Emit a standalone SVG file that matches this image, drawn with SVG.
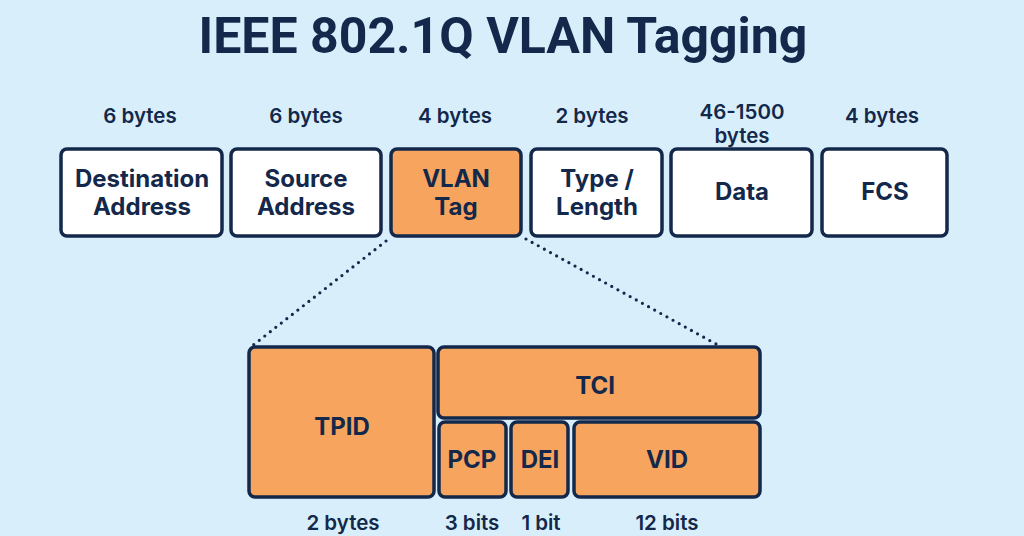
<svg xmlns="http://www.w3.org/2000/svg" width="1024" height="536" viewBox="0 0 1024 536">
<style>
.box{fill:#ffffff;stroke:#13284a;stroke-width:3.5}
.tag{fill:#f7a45e;stroke:#13284a;stroke-width:3.5}
.lbl{font-family:Inter,"Noto Sans",sans-serif;font-weight:700;font-size:24px;fill:#13284a;text-anchor:middle}
.sz{font-family:Inter,"Noto Sans",sans-serif;font-weight:600;font-size:20.5px;fill:#13284a;text-anchor:middle}
.dot{fill:none;stroke:#13284a;stroke-width:3.2;stroke-linecap:round;stroke-dasharray:0 7}
</style>
<rect width="1024" height="536" fill="#d8effb"/>
<text x="503" y="53" font-family="Roboto,'Noto Sans',sans-serif" font-weight="700" font-size="50" fill="#13284a" text-anchor="middle">IEEE 802.1Q VLAN Tagging</text>

<g id="connectors">
<line class="dot" x1="386" y1="241" x2="252" y2="346"/>
<line class="dot" x1="526" y1="239" x2="716" y2="344"/>
</g>

<g id="dest">
<text class="sz" x="140" y="123">6 bytes</text>
<rect class="box" x="61" y="149" width="161" height="87" rx="6"/>
<text class="lbl" x="142" y="187">Destination</text>
<text class="lbl" x="142" y="215">Address</text>
</g>
<g id="src">
<text class="sz" x="306" y="123">6 bytes</text>
<rect class="box" x="231" y="149" width="150" height="87" rx="6"/>
<text class="lbl" x="306" y="187">Source</text>
<text class="lbl" x="306" y="215">Address</text>
</g>
<g id="vlan">
<text class="sz" x="455" y="123">4 bytes</text>
<rect class="tag" x="391" y="149" width="130" height="87" rx="6"/>
<text class="lbl" x="456" y="187">VLAN</text>
<text class="lbl" x="456" y="215">Tag</text>
</g>
<g id="type">
<text class="sz" x="592" y="123">2 bytes</text>
<rect class="box" x="531" y="149" width="131" height="87" rx="6"/>
<text class="lbl" x="597" y="187">Type /</text>
<text class="lbl" x="597" y="215">Length</text>
</g>
<g id="data">
<text class="sz" x="742" y="119">46-1500</text>
<text class="sz" x="742" y="143">bytes</text>
<rect class="box" x="671" y="149" width="141" height="87" rx="6"/>
<text class="lbl" x="742" y="200">Data</text>
</g>
<g id="fcs">
<text class="sz" x="882" y="123">4 bytes</text>
<rect class="box" x="822" y="149" width="125" height="87" rx="6"/>
<text class="lbl" x="885" y="200">FCS</text>
</g>

<g id="tpid">
<rect class="tag" x="249" y="347" width="185" height="150" rx="6"/>
<text class="lbl" x="342" y="435">TPID</text>
<text class="sz" x="343" y="530">2 bytes</text>
</g>
<g id="tci">
<rect class="tag" x="438" y="347" width="322" height="71" rx="6"/>
<text class="lbl" x="595" y="394">TCI</text>
</g>
<g id="pcp">
<rect class="tag" x="439" y="422" width="67" height="75" rx="6"/>
<text class="lbl" x="472" y="468">PCP</text>
<text class="sz" x="472" y="530">3 bits</text>
</g>
<g id="dei">
<rect class="tag" x="511" y="422" width="57" height="75" rx="6"/>
<text class="lbl" x="540" y="468">DEI</text>
<text class="sz" x="541" y="530">1 bit</text>
</g>
<g id="vid">
<rect class="tag" x="574" y="422" width="186" height="75" rx="6"/>
<text class="lbl" x="667" y="468">VID</text>
<text class="sz" x="667" y="530">12 bits</text>
</g>
</svg>
